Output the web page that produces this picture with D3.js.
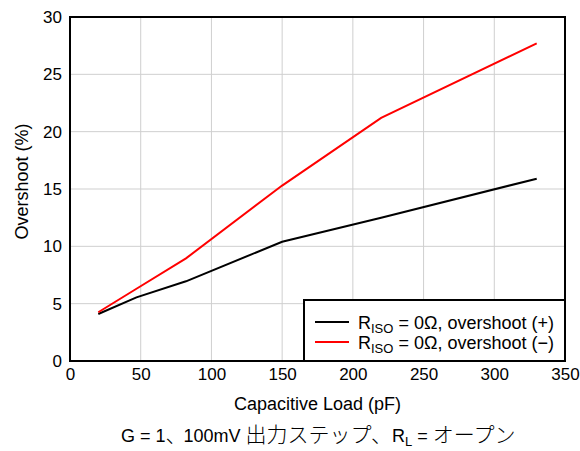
<!DOCTYPE html>
<html lang="ja">
<head>
  <meta charset="utf-8">
  <title>Overshoot vs Capacitive Load</title>
  <script src="https://d3js.org/d3.v7.min.js"></script>
  <style>
    html, body { margin: 0; padding: 0; background: #fff; }
    svg { display: block; font-family: "Liberation Sans", Arial, sans-serif; }
    .grid line { stroke: #cfcfcf; stroke-width: 1px; }
    .tick text { font-size: 17px; fill: #000; font-family: "Liberation Sans", Arial, sans-serif; }
    .cjk { font-family: "Noto Sans CJK JP", sans-serif; font-weight: 300; }
  </style>
</head>
<body>
  <svg width="580" height="451"></svg>
  <script>
    // データ
    const capLoad = [20, 47, 82, 150, 220, 330];
    const overshootPos = [4.1, 5.55, 6.95, 10.4, 12.5, 15.9];
    const overshootNeg = [4.25, 6.3, 8.95, 15.3, 21.2, 27.7];
    const xTicks = [0, 50, 100, 150, 200, 250, 300, 350];
    const yTicks = [0, 5, 10, 15, 20, 25, 30];
    const legendLabels = ["overshoot (+)", "overshoot (\u2212)"];

    const svg = d3.select("svg");
    const plot = { left: 70, right: 565, top: 17, bottom: 361 };

    const x = d3.scaleLinear().domain([0, 350]).range([plot.left, plot.right]);
    const y = d3.scaleLinear().domain([0, 30]).range([plot.bottom, plot.top]);

    // グリッド
    const grid = svg.append("g").attr("class", "grid");
    grid.selectAll(".gx").data(xTicks.slice(1, -1)).enter().append("line")
      .attr("x1", d => x(d)).attr("x2", d => x(d))
      .attr("y1", plot.top).attr("y2", plot.bottom);
    grid.selectAll(".gy").data(yTicks.slice(1, -1)).enter().append("line")
      .attr("x1", plot.left).attr("x2", plot.right)
      .attr("y1", d => y(d)).attr("y2", d => y(d));

    // 軸
    svg.append("g")
      .attr("transform", `translate(0,${plot.bottom})`)
      .call(d3.axisBottom(x).tickValues(xTicks).tickSize(0).tickPadding(7))
      .call(g => g.select(".domain").remove());
    svg.append("g")
      .attr("transform", `translate(${plot.left},0)`)
      .call(d3.axisLeft(y).tickValues(yTicks).tickSize(0).tickPadding(8))
      .call(g => g.select(".domain").remove());

    // 線
    const line = d3.line().x((d, i) => x(capLoad[i])).y(d => y(d));
    svg.append("path").datum(overshootPos)
      .attr("d", line).attr("fill", "none").attr("stroke", "#000").attr("stroke-width", 2);
    svg.append("path").datum(overshootNeg)
      .attr("d", line).attr("fill", "none").attr("stroke", "#ff0000").attr("stroke-width", 2);

    // 枠
    svg.append("rect")
      .attr("x", plot.left).attr("y", plot.top)
      .attr("width", plot.right - plot.left).attr("height", plot.bottom - plot.top)
      .attr("fill", "none").attr("stroke", "#000").attr("stroke-width", 2);

    // 凡例
    const lg = svg.append("g");
    lg.append("rect")
      .attr("x", 304).attr("y", 300)
      .attr("width", plot.right - 304).attr("height", plot.bottom - 300)
      .attr("fill", "#fff").attr("stroke", "#000").attr("stroke-width", 2);
    const colors = ["#000", "#ff0000"];
    legendLabels.forEach((lab, i) => {
      const yy = 322 + i * 20;
      lg.append("line")
        .attr("x1", 315).attr("x2", 349).attr("y1", yy).attr("y2", yy)
        .attr("stroke", colors[i]).attr("stroke-width", 2);
      const t = lg.append("text")
        .attr("x", 358).attr("y", yy + 6.5)
        .attr("font-size", 18);
      t.append("tspan").text("R");
      t.append("tspan").attr("font-size", 13).attr("dy", 4).text("ISO");
      t.append("tspan").attr("dy", -4).text(" = 0\u03A9, " + lab);
    });

    // 軸タイトル
    svg.append("text")
      .attr("x", (plot.left + plot.right) / 2).attr("y", 410)
      .attr("text-anchor", "middle").attr("font-size", 18)
      .text("Capacitive Load (pF)");
    svg.append("text")
      .attr("transform", "translate(28,181.5) rotate(-90)")
      .attr("text-anchor", "middle").attr("font-size", 18)
      .text("Overshoot (%)");

    // キャプション
    const cap = svg.append("text")
      .attr("x", 121).attr("y", 442)
      .attr("font-size", 18);
    cap.append("tspan").text("G = 1");
    cap.append("tspan").attr("class", "cjk").attr("font-size", 21).text("\u3001");
    cap.append("tspan").attr("dx", -3).text("100mV ");
    cap.append("tspan").attr("class", "cjk").attr("font-size", 21).text("\u51FA\u529B\u30B9\u30C6\u30C3\u30D7\u3001");
    cap.append("tspan").text("R");
    cap.append("tspan").attr("font-size", 13).attr("dy", 4).text("L");
    cap.append("tspan").attr("dy", -4).text(" = ");
    cap.append("tspan").attr("class", "cjk").attr("font-size", 21).text("\u30AA\u30FC\u30D7\u30F3");
  </script>
</body>
</html>
